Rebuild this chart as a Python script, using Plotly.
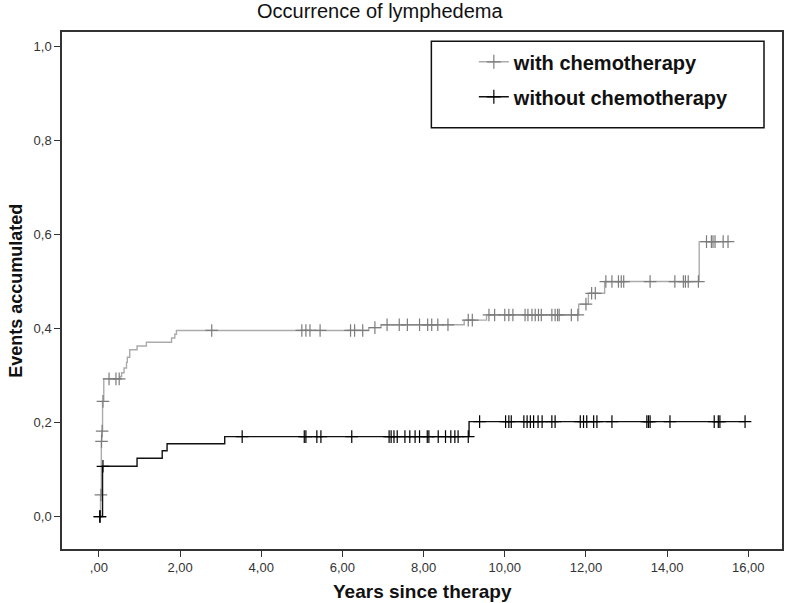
import numpy as np
import plotly.graph_objects as go

# Kaplan-Meier style cumulative events
chemo_event_t = [0, 0.04, 0.06, 0.07, 0.09, 0.12, 0.52, 0.56, 0.62, 0.68, 0.70, 0.76, 0.94, 1.17,
                 1.79, 1.87, 1.91, 6.65, 6.95, 9.0, 9.55, 11.82, 12.06, 12.46, 14.79]
chemo_event_v = [0, 0.046, 0.160, 0.182, 0.245, 0.293, 0.298, 0.306, 0.316, 0.328, 0.339, 0.355, 0.363, 0.371,
                 0.380, 0.388, 0.396, 0.402, 0.408, 0.418, 0.429, 0.452, 0.475, 0.500, 0.585]
chemo_censor_t = [0.05, 0.065, 0.08, 0.10, 0.25, 0.42, 0.50, 2.78, 5.0, 5.1, 5.2, 5.45, 6.2, 6.3, 6.5,
                  6.8, 7.1, 7.4, 7.6, 7.9, 8.1, 8.2, 8.35, 8.6, 9.1, 9.2, 9.61, 9.75, 10.0, 10.1, 10.2,
                  10.5, 10.57, 10.67, 10.75, 10.83, 10.9, 11.16, 11.24, 11.3, 11.34, 11.64, 11.80, 12.0,
                  12.14, 12.23, 12.49, 12.64, 12.80, 12.87, 12.93, 13.58, 14.19, 14.40, 14.45, 14.52,
                  14.77, 14.97, 15.09, 15.13, 15.18, 15.38, 15.50]

nochemo_event_t = [0, 0.09, 0.94, 1.56, 1.68, 3.10, 9.12]
nochemo_event_v = [0, 0.107, 0.124, 0.140, 0.155, 0.170, 0.202]
nochemo_censor_t = [0.02, 0.03, 0.10, 3.53, 5.06, 5.10, 5.37, 5.47, 6.23, 7.15, 7.20, 7.27, 7.35, 7.54,
                    7.66, 7.79, 7.90, 8.09, 8.13, 8.36, 8.54, 8.67, 8.77, 8.85, 9.10, 9.38, 10.02, 10.10,
                    10.16, 10.47, 10.55, 10.63, 10.71, 10.82, 10.92, 11.16, 11.24, 11.86, 11.94, 12.02,
                    12.19, 12.27, 12.64, 13.50, 13.54, 13.58, 14.07, 15.16, 15.26, 15.30, 15.92]

x_ticks = [0, 2, 4, 6, 8, 10, 12, 14, 16]
x_ticktext = [',00', '2,00', '4,00', '6,00', '8,00', '10,00', '12,00', '14,00', '16,00']
y_ticks = [0, 0.2, 0.4, 0.6, 0.8, 1.0]
y_ticktext = ['0,0', '0,2', '0,4', '0,6', '0,8', '1,0']

FONT = 'Liberation Sans, Arial, sans-serif'


def step_level(et, ev, t):
    idx = np.searchsorted(np.array(et), np.array(t), side='right') - 1
    return np.array(ev)[idx]


fig = go.Figure()

groups = [
    ('with chemotherapy', chemo_event_t, chemo_event_v, chemo_censor_t, '#ababab', '#7c7c7c'),
    ('without chemotherapy', nochemo_event_t, nochemo_event_v, nochemo_censor_t, '#111111', '#000000'),
]

for name, et, ev, ct, lc, mc in groups:
    end = max(ct[-1], et[-1])
    xs = list(et) + [end]
    ys = list(ev) + [ev[-1]]
    fig.add_trace(go.Scatter(x=xs, y=ys, mode='lines', line=dict(color=lc, width=1.4, shape='hv'),
                             showlegend=False, hoverinfo='skip'))
    fig.add_trace(go.Scatter(x=ct, y=step_level(et, ev, ct), mode='markers',
                             marker=dict(symbol='cross-thin', size=9, line=dict(color=mc, width=1.2)),
                             showlegend=False))
    # legend entry
    fig.add_trace(go.Scatter(x=[None], y=[None], mode='lines+markers', name=name, legendgroup=name,
                             line=dict(color=lc, width=1.5),
                             marker=dict(symbol='cross-thin', size=10, line=dict(color=mc, width=1.2))))

# legend frame
fig.add_shape(type='rect', xref='paper', yref='paper', x0=0.513, x1=0.975, y0=0.815, y1=0.982,
              line=dict(color='#111111', width=1.5), fillcolor='rgba(0,0,0,0)')

fig.update_layout(
    width=788, height=603,
    margin=dict(l=62, r=4, t=32, b=54),
    paper_bgcolor='white', plot_bgcolor='white',
    font=dict(family=FONT, color='#222222'),
    title=dict(text='Occurrence of lymphedema', x=0.482, xanchor='center', y=0.993, yanchor='top',
               font=dict(size=20, color='#111111')),
    legend=dict(x=0.572, y=0.98, xanchor='left', yanchor='top', bgcolor='rgba(0,0,0,0)',
                itemwidth=30, tracegroupgap=6,
                font=dict(size=20, color='#111111', family=FONT, weight='bold')),
    xaxis=dict(range=[-0.909, 16.83], tickvals=x_ticks, ticktext=x_ticktext, ticks='outside',
               ticklen=6, tickcolor='#333', showline=True, linecolor='#333', linewidth=1.5, mirror=True,
               showgrid=False, zeroline=False, tickfont=dict(size=13, color='#333')),
    yaxis=dict(range=[-0.069, 1.031], tickvals=y_ticks, ticktext=y_ticktext, ticks='outside',
               ticklen=6, tickcolor='#333', showline=True, linecolor='#333', linewidth=1.5, mirror=True,
               showgrid=False, zeroline=False, tickfont=dict(size=13, color='#333')),
    annotations=[
        dict(text='Years since therapy', xref='paper', yref='paper', x=0.5, y=-0.083, xanchor='center',
             yanchor='middle', showarrow=False, font=dict(size=19, color='#111', weight='bold')),
        dict(text='Events accumulated', xref='paper', yref='paper', x=-0.065, y=0.5, xanchor='center',
             yanchor='middle', textangle=-90, showarrow=False, font=dict(size=18, color='#111', weight='bold')),
    ],
)

# the page's default 8px body margin would shift the chart; remove it
fig.write_html("out.html", config={'displayModeBar': False},
               post_script="document.body.style.margin = '0';")
